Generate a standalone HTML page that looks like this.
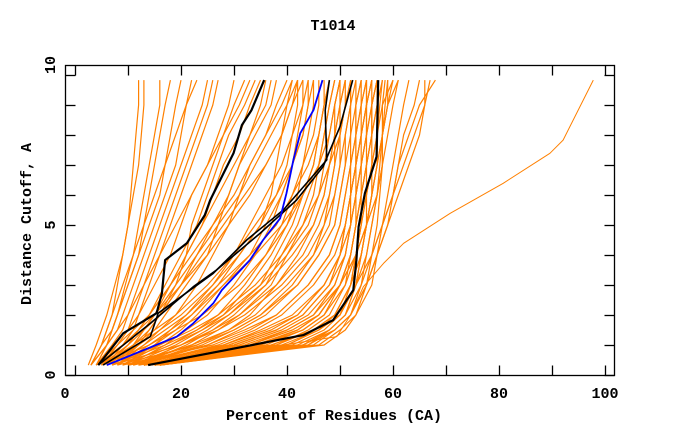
<!DOCTYPE html>
<html><head><meta charset="utf-8"><style>
body{margin:0;background:#fff}
svg{display:block}
text{font-family:"Liberation Mono",monospace;font-weight:bold;font-size:15px;fill:#000}
</style></head><body>
<svg id="chart" width="680" height="440" viewBox="0 0 680 440" xmlns="http://www.w3.org/2000/svg">
<rect x="0" y="0" width="680" height="440" fill="#fff"/>
<text x="333" y="30" text-anchor="middle">T1014</text>
<g id="series"></g>
<g id="axes"></g>
<text x="334" y="420" text-anchor="middle">Percent of Residues (CA)</text>
<text x="0" y="0" text-anchor="middle" transform="translate(31,224) rotate(-90)">Distance Cutoff, A</text>
</svg>
<script>
const distances = [0.33,1,1.5,2,3,4,5,6,7,8,9,9.83];
const orangeCurves = [
[3,5,6,7,8,9,10,10.5,11,11.5,12,12],
[3,6,7,8,9.5,11,12,13,14,15,16,16],
[4,6,8,9,11,13,15,17,19,20,21,22],
[4,7,9,10,12,14,16,18,20,22,24,25],
[5,8,10,11,13,15,17,19,21,23,25,26],
[3,5,7,8,10,12,14,16,17,18,19,20],
[5,8,10,12,14,16,18,20,22,24,26,27],
[6,9,11,12,15,18,20,22,25,27,29,30],
[6,10,12,14,17,20,23,25,27,29,32,34],
[7,11,13,15,18,21,24,26,28,31,33,35],
[7,12,15,17,21,25,27,29,31,33,36,37],
[8,13,16,19,23,26,29,31,33,36,38,40],
[6,11,14,16,20,23,26,29,31,34,37,38],
[5,10,13,16,19,21,22,24,26,28,30,32],
[8,15,19,22,27,31,35,38,40,41,42,42],
[9,16,20,23,28,33,36,39,41,42,43,43],
[10,17,21,25,30,34,37,39,41,43,44,44],
[9,18,23,27,32,36,39,41,43,44,45,45],
[10,19,24,28,33,37,40,42,43,45,46,46],
[11,20,25,29,35,38,41,43,45,46,47,48],
[12,21,26,30,36,39,42,44,46,47,48,49],
[11,22,27,31,37,40,43,45,46,47,48,49],
[12,25,32,38,44,48,50,51,52,52,53,53],
[13,28,35,41,47,50,51,52,53,53,54,54],
[14,32,40,45,49,51,52,53,54,54,55,55],
[14,36,43,47,50,52,53,54,55,55,56,56],
[15,40,46,49,52,53,54,55,56,56,57,57],
[15,43,48,51,53,54,55,56,57,57,57.5,58],
[16,45,49,52,54,55,56,57,57.5,58,58,58.5],
[13,30,38,43,48,50,51,52,53,54,55,56],
[14,38,44,48,51,52,53,54,55,56,57,57],
[16,47,51,53,55,56,57,57.5,58,58,58.5,59],
[15,44,49,52,55,57,58,59,60,61,62,63],
[16,46,50,53,56,57,59,60,61,62,64,65],
[15,42,48,51,54,56,58,60,62,64,66,67],
[14,40,46,50,53,56,58,60,61,63,65,68],
[13,35,42,46,50,53,55,57,58,59,60,61],
[9,18,24,29,36,41,45,47,48,49,50,50],
[10,22,29,34,40,45,48,49,50,50,51,51],
[11,25,31,36,42,46,49,50,51,51,52,52],
[8,14,18,22,28,34,39,43,46,48,49,50],
[7,13,17,21,27,33,38,41,44,46,47,48],
[12,27,34,39,45,49,51,52,52,53,53,54],
[6,12,16,20,26,31,35,37,38,39,40,41],
[12,24,30,35,41,45,47,48,49,50,50,51],
[13,33,41,46,50,52,53,53,54,55,55,56],
[11,20,26,31,38,43,46,48,49,49,50,51],
[14,37,45,49,52,53,54,55,55,56,56,57],
[10,30,38,43,48,51,52,53,53,54,54,55],
[11,28,36,42,47,50,51,52,53,53,54,55],
[12,34,42,46,50,52,53,54,54,55,55,56],
[9,26,33,38,44,48,50,51,52,53,53,54],
[8,23,30,35,42,46,49,50,51,52,52,53],
[7,20,27,32,39,44,47,49,50,51,52,52],
[10,29,37,42,47,50,52,53,54,55,56,57],
[13,39,46,50,52,54,55,56,56,57,57,58],
[15,41,47,50,53,55,56,57,58,58,59,60],
[16,44,48,51,53,54,55,56,57,58,59,61],
[6,16,22,27,34,39,43,46,48,50,51,52],
[7,17,23,28,35,40,44,46,47,48,49,50],
[5,14,19,24,31,36,40,43,45,46,47,47],
[5,11,15,19,25,30,34,38,41,43,44,45],
[4,9,12,15,20,25,29,33,36,39,41,43],
[4,8,11,14,18,22,26,30,33,36,39,41],
[3,6,8,10,13,16,19,22,25,28,31,33],
[3,5,6,7,9,11,13,15,17,19,21,23],
[2.5,4,5,6,7.5,9,10,11,12,12.5,13,13],
[4,6,7,8,10,12,13,14,15,16,17,18],
[5,9,12,14,18,21,24,27,30,33,35,36],
[6,10,13,15,19,23,27,31,34,37,40,42],
[8,12,14,16,20,24,28,32,36,39,41,42],
[9,15,18,21,26,30,33,36,39,41,43,44],
[12,23,29,33,38,42,45,47,48,49,49,50],
[13,31,39,44,49,51,52,52,53,54,55,55],
[14,35,43,47,51,53,54,54,55,56,56,57],
[15,38,45,49,52,54,55,55,56,57,58,60],
[16,43,49,52,55,57,59,61,63,65,66,66],
[14,33,40,45,50,53,55,56,57,58,59,59]
];
const outlierD = [0.33,1.28,2,2.94,3.72,4.39,5.39,6.39,7.39,7.83,9.83];
const outlierX = [15,49.4,52,54.4,58.2,62,70.8,80.8,89.6,92.1,97.8];
const blueD = [0.33,1.28,1.72,2.39,2.83,3.83,4.5,5.22,6.06,7.17,8.06,8.83,9.83];
const blueX = [6,19.2,22.3,26.1,27.7,33,35.5,38.7,39.9,41.2,42.5,45,46.7];
const black1D = [0.33,1.39,2.06,2.72,3.83,4.39,5.33,5.83,7.39,8.33,8.83,9.83];
const black1X = [4.4,9.1,15.4,16.4,17,21.1,24.5,25.5,29.9,31.5,33.3,35.7];
const black2D = [0.33,1.28,2.06,3.39,4.5,5.5,7.17,8.83,9.83];
const black2X = [5.3,14.2,15.7,26.1,32.4,39.3,47.5,47.2,48];
const black3D = [0.33,1.72,2.94,3.5,4.72,5.83,6.94,8.28,9.83];
const black3X = [4.4,14.2,22.3,26.7,34.9,41.8,46.8,50,52.4];
const black4D = [0.33,1.33,1.83,2.83,3.83,4.94,6.06,7.28,9.83];
const black4X = [13.8,43.1,48.7,52.5,53.1,53.5,54.7,56.9,57.2];
const xTicks = [0,10,20,30,40,50,60,70,80,90,100];
const xLabels = [0,20,40,60,80,100];
const yTicks = [0,1,2,3,4,5,6,7,8,9,10];
const yLabels = [0,5,10];

const NS = "http://www.w3.org/2000/svg";
const L = 65.5, R = 614.5, T = 65.5, B = 375.5;
function xs(v){ return 75 + 5.3 * v; }
function ys(d){ return 375 - 30 * d; }
const series = document.getElementById('series');
const axes = document.getElementById('axes');
function poly(xv, dv, color, w, name){
  const p = document.createElementNS(NS, 'polyline');
  p.setAttribute('points', xv.map((v,i)=>xs(v).toFixed(1)+','+ys(dv[i]).toFixed(1)).join(' '));
  p.setAttribute('fill','none');
  p.setAttribute('stroke',color);
  p.setAttribute('stroke-width',w);
  p.setAttribute('stroke-linejoin','round');
  
  
  series.appendChild(p);
}
orangeCurves.forEach((c,i)=>poly(c, distances, '#ff8000', 1.2, 'model-curve-'+(i+1)));
poly(outlierX, outlierD, '#ff8000', 1, 'outlier-model-curve');
poly(black4X, black4D, '#000', 2.2, 'highlight-curve-4');
poly(black3X, black3D, '#000', 1.6, 'highlight-curve-3');
poly(black2X, black2D, '#000', 1.6, 'highlight-curve-2');
poly(black1X, black1D, '#000', 2.2, 'highlight-curve-1');
poly(blueX, blueD, '#0000ff', 1.8, 'reference-curve-blue');

function line(x1,y1,x2,y2,name){
  const l = document.createElementNS(NS,'line');
  l.setAttribute('x1',x1); l.setAttribute('y1',y1); l.setAttribute('x2',x2); l.setAttribute('y2',y2);
  l.setAttribute('stroke','#000'); l.setAttribute('stroke-width',1.3);
  
  
  axes.appendChild(l);
}
const frame = document.createElementNS(NS,'rect');
frame.setAttribute('x',L); frame.setAttribute('y',T); frame.setAttribute('width',R-L); frame.setAttribute('height',B-T);
frame.setAttribute('fill','none'); frame.setAttribute('stroke','#000'); frame.setAttribute('stroke-width',1.3);


axes.appendChild(frame);
xTicks.forEach(v=>{
  const x = Math.round(xs(v))+0.5;
  line(x,B,x,B-10,'x-tick-'+v);
  line(x,T,x,T+10,'x-top-tick-'+v);
});
yTicks.forEach(d=>{
  const y = Math.round(ys(d))+0.5;
  line(L,y,L+10,y,'y-tick-'+d);
  line(R,y,R-10,y,'y-right-tick-'+d);
});
xLabels.forEach(v=>{
  const t = document.createElementNS(NS,'text');
  t.setAttribute('x', v===0 ? 65 : xs(v));
  t.setAttribute('y', 398);
  t.setAttribute('text-anchor','middle');
  t.textContent = v;
  
  
  axes.appendChild(t);
});
yLabels.forEach(d=>{
  const t = document.createElementNS(NS,'text');
  const y = d===10 ? 65 : ys(d);
  t.setAttribute('transform','translate(55,'+y+') rotate(-90)');
  t.setAttribute('text-anchor','middle');
  t.textContent = d;
  
  
  axes.appendChild(t);
});
</script>
</body></html>
